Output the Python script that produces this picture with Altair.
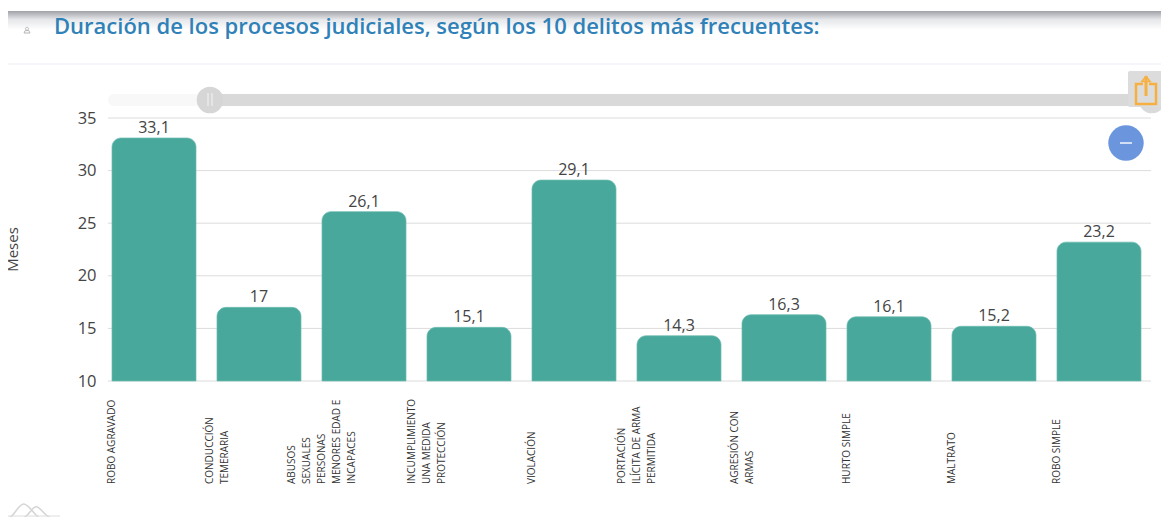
import altair as alt
import pandas as pd

categories = ["ROBO AGRAVADO", "CONDUCCIÓN|TEMERARIA", "ABUSOS|SEXUALES|PERSONAS|MENORES EDAD E|INCAPACES",
              "INCUMPLIMIENTO|UNA MEDIDA|PROTECCIÓN", "VIOLACIÓN", "PORTACIÓN|ILÍCITA DE ARMA|PERMITIDA",
              "AGRESIÓN CON|ARMAS", "HURTO SIMPLE", "MALTRATO", "ROBO SIMPLE"]
values = [33.1, 17, 26.1, 15.1, 29.1, 14.3, 16.3, 16.1, 15.2, 23.2]
value_labels = ["33,1", "17", "26,1", "15,1", "29,1", "14,3", "16,3", "16,1", "15,2", "23,2"]
ticks = [10, 15, 20, 25, 30, 35]

FONT = "Open Sans"
TEXT = "#444444"
OX, OY = 93.5, 110   # padding: plot origin inside the svg
PW, PH = 1050, 263
one = alt.Data(values=[{"k": 1}])

def X(px): return px - 8 - OX
def Y(py): return py - 8 - OY

df = pd.DataFrame({"cat": categories, "val": values, "lab": value_labels})
x_enc = alt.X("cat:N", sort=None, title=None,
              scale=alt.Scale(paddingInner=0.2, paddingOuter=0.1),
              axis=alt.Axis(labels=False, ticks=False, domain=False, grid=False))
y_scale = alt.Scale(domain=[10, 35], nice=False, zero=False)
y_axis = alt.Axis(values=ticks, title="Meses", titleFont=FONT, titleFontSize=15,
                  titleFontWeight="normal", titleColor=TEXT, titleX=X(20), titleY=Y(249),
                  labelFont=FONT, labelFontSize=16.5, labelColor=TEXT, labelPadding=5.5,
                  ticks=False, domain=False, grid=False)

def rect(x0, x1, y0, y1, **kw):
    return alt.Chart(one).mark_rect(**kw).encode(x=alt.value(X(x0)), x2=alt.value(X(x1)),
                                                 y=alt.value(Y(y0)), y2=alt.value(Y(y1)))
def line(x0, y0, x1, y1, color, w=1):
    return alt.Chart(one).mark_rule(color=color, strokeWidth=w).encode(
        x=alt.value(X(x0)), x2=alt.value(X(x1)), y=alt.value(Y(y0)), y2=alt.value(Y(y1)))
def dot(x, y, r, color):
    return alt.Chart(one).mark_circle(color=color, opacity=1, size=3.14159 * r * r).encode(
        x=alt.value(X(x)), y=alt.value(Y(y)))
def glyph(x, y, path, size, color, w=1.5):
    return alt.Chart(one).mark_point(shape=path, size=size, filled=False, stroke=color, strokeWidth=w,
                                     opacity=1).encode(x=alt.value(X(x)), y=alt.value(Y(y)))

shade = rect(8, 1169, 11, 30, fill=alt.LinearGradient(gradient="linear", x1=0, x2=0, y1=0, y2=1,
             stops=[alt.GradientStop(offset=0, color="#a0a2a9"), alt.GradientStop(offset=0.45, color="#e6e7ea"),
                    alt.GradientStop(offset=1, color="#ffffff")]))
header_line = line(8, 64, 1169, 64, "#f1f3f7", 1.5)

grid = alt.Chart(alt.Data(values=[{"t": t} for t in ticks])).mark_rule(color="#dcdcdc", strokeWidth=1).encode(
    y=alt.Y("t:Q", scale=y_scale, axis=y_axis), x=alt.value(X(108)), x2=alt.value(X(1151)))

slider = [
    rect(108, 210, 94, 106, fill="#f8f8f8", cornerRadius=6),
    rect(210, 1152, 94, 106, fill="#d9d9d9"),
    dot(1152, 100, 15, "#dadada"),
    dot(210, 100, 15, "#d6d6d6"),
    line(208, 93, 208, 106, "#f4f4f4", 1),
    line(212, 93, 212, 106, "#f4f4f4", 1),
]

bars = alt.Chart(df).mark_bar(color="#48a89c", stroke="#6dbbb0", strokeWidth=0.7,
                              cornerRadiusTopLeft=9, cornerRadiusTopRight=9).encode(
    x=x_enc, y=alt.Y("val:Q", scale=y_scale, axis=y_axis), y2=alt.Y2(datum=10))
labels = alt.Chart(df).mark_text(font=FONT, fontSize=16, color=TEXT, baseline="bottom", dy=-2).encode(
    x=alt.X("cat:N", sort=None), y=alt.Y("val:Q", scale=y_scale), text="lab:N")
cat_labels = alt.Chart(df).transform_calculate(
    off="-(length(split(datum.cat,'|'))-1)/2*15"
).mark_text(font=FONT, fontSize=10, color="#333333", angle=270, align="left", baseline="middle",
            lineBreak="|", lineHeight=15).encode(
    x=alt.X("cat:N", sort=None), xOffset=alt.XOffset("off:Q", scale=None),
    y=alt.value(Y(484)), text="cat:N")

export = [
    rect(1128, 1162, 71, 107, fill="#dcdcdc", cornerRadius=2),
    rect(1136, 1156, 84, 104, fill="#dcdcdc", stroke="#f5b041", strokeWidth=2.5),
    rect(1143, 1149, 76, 97, fill="#dcdcdc"),
    line(1146, 76, 1146, 96, "#f5b041", 3),
    glyph(1146, 79, "M -1 0.6 L 0 -0.6 L 1 0.6 Z", 70, "#f5b041", 1.5),
]
minus = [dot(1126, 143, 20, "#6b96dd"), line(1120, 143, 1132, 143, "#f4f6fb", 1.5)]
person = [glyph(27, 30, "M -0.5 -0.4 A 0.5 0.5 0 1 1 0.5 -0.4 A 0.5 0.5 0 1 1 -0.5 -0.4 M -1 1 L -0.6 0.2 L 0.6 0.2 L 1 1 Z",
                36, "#b5b5b8", 1)]
logo = [
    glyph(30, 511, "M -1 0.33 C -0.75 0.25 -0.55 -0.33 -0.3 -0.33 C -0.05 -0.33 0.2 0.2 0.45 0.33 "
                   "M -0.3 0.33 C -0.05 0.2 0.1 -0.2 0.3 -0.2 C 0.5 -0.2 0.7 0.25 1 0.33",
          1764, "#d4d4d4", 1.5),
    line(8, 516, 60, 516, "#dddddd", 1),
]

chart = alt.layer(shade, header_line, grid, *slider, bars, labels, cat_labels, *export, *minus, *person, *logo).properties(
    width=PW, height=PH,
    padding={"left": OX, "top": OY, "right": 1153 - OX - PW, "bottom": 509 - OY - PH},
    autosize=alt.AutoSizeParams(type="none"),
    title=alt.TitleParams("Duración de los procesos judiciales, según los 10 delitos más frecuentes:",
                          anchor="start", frame="group", font=FONT, fontSize=22, fontWeight=600,
                          color="#2f81b7", offset=0, dy=28, dx=-47.5),
).configure_view(stroke=None)

chart.save("out.html", embed_options={"renderer": "svg", "actions": False})
